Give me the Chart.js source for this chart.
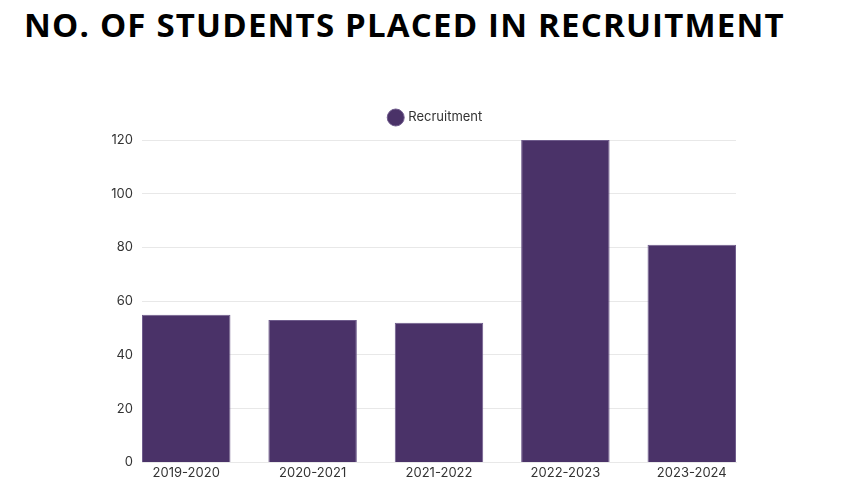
<!DOCTYPE html>
<html>
<head>
<meta charset="utf-8">
<script src="https://cdn.jsdelivr.net/npm/chart.js@4.4.0/dist/chart.umd.min.js"></script>
<style>
  body { margin: 0; background: #fff; }
  #wrap { position: relative; width: 845px; height: 493px; }
  #title {
    position: absolute; left: 24px; top: 2px; margin: 0;
    font-family: "Open Sans", sans-serif; font-weight: 700; font-size: 33px;
    color: #000; letter-spacing: 1.2px; white-space: nowrap;
  }
  canvas { position: absolute; left: 0; top: 0; }
</style>
</head>
<body>
<div id="wrap">
  <h1 id="title">NO. OF STUDENTS PLACED IN RECRUITMENT</h1>
  <canvas id="chart" width="845" height="493"></canvas>
</div>
<script>
// chart data
const years = ["2019-2020", "2020-2021", "2021-2022", "2022-2023", "2023-2024"];
const placed = [55, 53, 52, 120, 81];
const yTicks = [0, 20, 40, 60, 80, 100, 120];

const barColor = "#4a3268";
const textColor = "#333333";
const gridColor = "#e8e8e8";

// push the plot a bit below the legend
const legendGap = {
  id: "legendGap",
  beforeInit(chart) {
    const fit = chart.legend.fit;
    chart.legend.fit = function () {
      fit.call(this);
      this.height += 6;
    };
  }
};

document.addEventListener("DOMContentLoaded", function () {
  const ctx = document.getElementById("chart").getContext("2d");

  new Chart(ctx, {
    type: "bar",
    data: {
      datasets: [{
        label: "Recruitment",
        data: placed.map((v, i) => ({ x: i, y: v })),
        backgroundColor: barColor,
        borderColor: "#6f5c8c",
        borderWidth: 1,
        categoryPercentage: 1,
        barPercentage: 0.7
      }]
    },
    plugins: [legendGap],
    options: {
      responsive: false,
      animation: false,
      layout: { padding: { left: 100, right: 73, top: 101, bottom: 9 } },
      plugins: {
        title: { display: false },
        tooltip: { enabled: false },
        legend: {
          labels: {
            usePointStyle: true,
            pointStyle: "circle",
            boxWidth: 12,
            boxHeight: 12,
            padding: 10,
            color: textColor,
            font: { family: "Inter", size: 13 }
          }
        }
      },
      scales: {
        x: {
          type: "linear",
          offset: false,
          min: -0.35,
          max: years.length - 0.65,
          grid: { display: false, drawTicks: false },
          border: { display: true, color: gridColor },
          ticks: {
            stepSize: 1,
            includeBounds: false,
            autoSkip: false,
            maxRotation: 0,
            padding: 3,
            color: textColor,
            font: { family: "Inter", size: 13 },
            callback: v => years[v] || ""
          }
        },
        y: {
          min: 0,
          max: yTicks[yTicks.length - 1],
          afterFit: s => { s.width = 42; },
          afterBuildTicks: s => { s.ticks = yTicks.map(v => ({ value: v })); },
          grid: { color: gridColor, drawTicks: false },
          border: { display: false },
          ticks: {
            padding: 9,
            color: textColor,
            font: { family: "Inter", size: 13 }
          }
        },
        // empty spacer on the right so the legend sits over the plot
        yRight: {
          position: "right",
          afterFit: s => { s.width = 36; },
          grid: { display: false },
          border: { display: false },
          ticks: { display: false }
        }
      }
    }
  });
});
</script>
</body>
</html>
